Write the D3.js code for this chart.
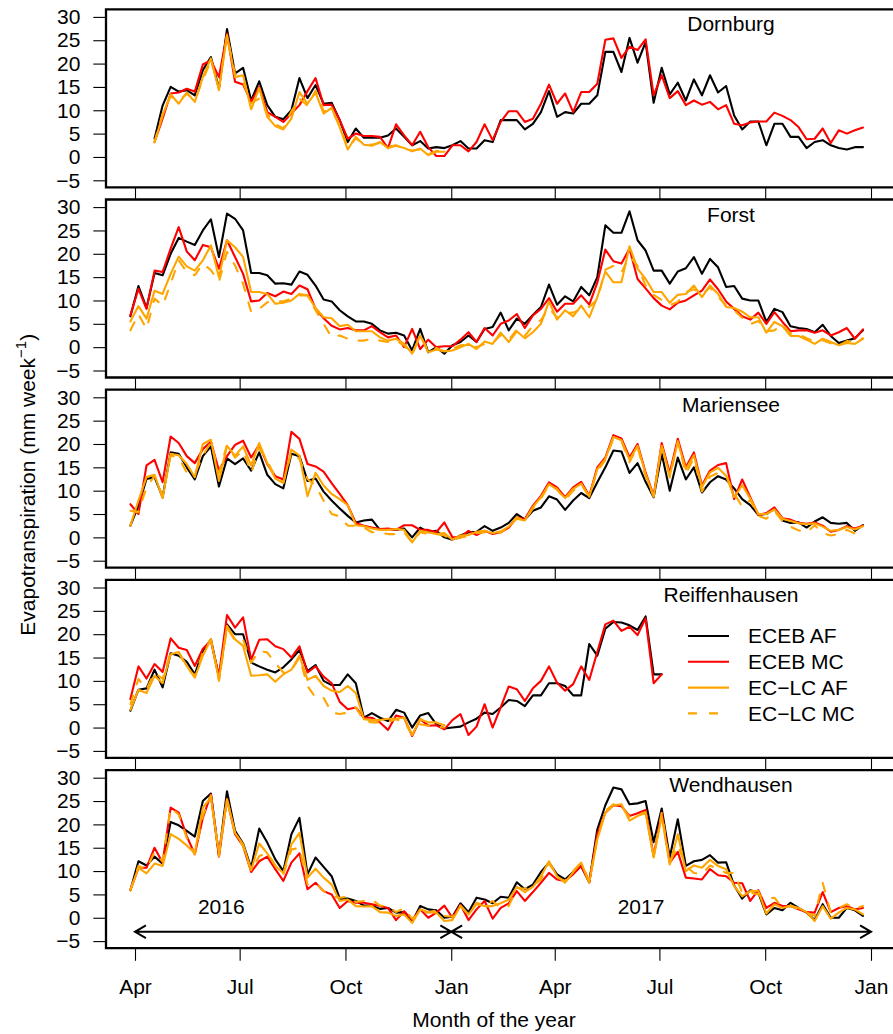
<!DOCTYPE html>
<html>
<head>
<meta charset="utf-8">
<script src="https://cdn.jsdelivr.net/npm/d3@7"></script>
<style>
  body { margin: 0; background: #fff; }
  svg { display: block; font-family: "Liberation Sans", Arial, sans-serif; }
</style>
</head>
<body>
<div id="chart"></div>
<script>
// weekly evapotranspiration (mm/week), one value per week from 28 Mar 2016, null = no data
const weekStart = new Date(2016, 2, 28);

const siteNames = ['Dornburg', 'Forst', 'Mariensee', 'Reiffenhausen', 'Wendhausen'];
const seriesNames = ['ECEB AF', 'ECEB MC', 'EC\u2212LC AF', 'EC\u2212LC MC'];
const yTicks = [-5, 0, 5, 10, 15, 20, 25, 30];

const dornburgEcebAF = [null, null, null,
  3.9, 11, 15, 14, 14.3, 13.2, 18.6, 21.4, 14.6, 27.4, 17.9, 19.1, 12.1, 16.2, 11.1, 8.6, 8.1, 10, 16.9, 12.6,
  15.4, 11.4, 11.6, 7.9, 3.2, 6.1, 4.1, 4.1, 4.1, 4.6, 6.1, 4.3, 2.5, 3.4, 1.8, 2.1, 1.9, 2.5, 3.4, 1.8, 1.8, 3.6,
  3.2, 7.9, 7.9, 7.9, 5.9, 7.1, 9.6, 14.1, 8.6, 9.6, 9.3, 11.4, 11.4, 13.2, 22.5, 22.5, 18.2, 25.5, 20.2, 24.6,
  11.6, 19.1, 13.4, 15.9, 12.1, 16.6, 13.2, 17.5, 13.8, 15.2, 8.9, 5.9, 7.6, 7.6, 2.5, 7.1, 7.1, 4.3, 4.3, 1.9,
  3.2, 3.6, 2.5, 1.9, 1.6, 2.1, 2.1];
const dornburgEcebMC = [null, null, null,
  3.2, 8.2, 13.6, 13.8, 14.6, 14, 19.8, 20.7, 17.1, 26.4, 16.1, 15.5, 11.8, 15, 9.6, 8.6, 7.5, 9.3, 11.1, 14.1,
  16.9, 11.1, 11.2, 7.9, 3.9, 5, 4.5, 4.5, 4.3, 1.9, 7, 4.6, 2.5, 5.4, 2.1, 0.2, 0.2, 2.5, 2.5, 1.2, 3.2, 7,
  3.6, 7.5, 9.8, 9.8, 7.5, 8.2, 11.4, 15.5, 11.4, 13.6, 9.6, 13.9, 13.9, 15.7, 25.1, 25.4, 21.2, 23.6, 22.9, 25.2,
  13.2, 17.5, 12.6, 14.1, 11.1, 12.1, 11.2, 11.8, 10.2, 11.1, 7.1, 6.8, 7.4, 7.6, 7.6, 9.5, 8.8, 7.9, 6.4, 3.8,
  3.9, 6.1, 3, 5.7, 5, 5.7, 6.3];
const dornburgEclcAF = [null, null, null,
  3.1, 8.9, 13.4, 11.4, 13.8, 11.8, 17.1, 21.1, 14.3, 26.1, 17.1, 17.5, 10.2, 14.8, 8.6, 6.6, 5.9, 8.2, 13.9, 11.4,
  13.8, 9.3, 10.5, 6.4, 1.6, 4.3, 2.6, 2.4, 3.2, 1.9, 2.4, 1.9, 1.2, 1.8, 0.4, 1.1, 1.1];
const dornburgEclcMC = [null, null, null,
  3.3, 9.2, 13, 12, 13.5, 12.2, 16.5, 20.6, 15, 26, 17.8, 16, 11.5, 12.5, 9.3, 7, 6.1, 9.8, 12.5, 11,
  14.2, 9.8, 10, 6.8, 2, 4, 2.8, 2.6, 3, 2.2, 2.5, 1.7, 1.4, 1.6, 0.6, 1.3, 1.2];

const forstEcebAF = [
  6.6, 13.1, 8.4, 15.9, 15.4, 20, 23.4, 22.6, 21.9, 25, 27.4, 19.3, 28.6, 27.5, 25, 15.9, 15.9, 15.4, 13.6, 13.7,
  13.4, 16.2, 15.5, 13.2, 10.2, 9.8, 7.9, 6.6, 5.5, 5.5, 5, 3.6, 2.9, 3.1, 2.5, -0.7, 3.9, -1.1, 0, -1.4, 0.4, 1.1,
  2.5, 1.1, 3.9,
  4.3, 7.4, 3.6, 6.1, 5, 6.9, 8.6, 13.4, 9.1, 10.9, 9.8, 12.9, 11.1, 15, 26.1, 24.5, 24.5, 29.1, 22.9, 20.7,
  16.4, 16.4, 13.6, 16.2, 16.9, 19.3, 15.7, 18.9, 17.1, 12.9, 13.1, 10.4, 10, 10, 5.4, 8.2, 7.5, 4.5, 4.1, 3.9,
  3.2, 4.8, 2.4, 0.9, 1.4, 1.9, 3.6];
const forstEcebMC = [
  6.8, 12.5, 8.2, 16.4, 16.1, 21.1, 25.7, 20.5, 18.6, 21.9, 21.4, 16.8, 22.9, 19.3, 15.7, 9.8, 10, 11.6, 10.9, 11.9,
  11.4, 13.2, 12.4, 8.2, 6.2, 4.6, 3.8, 4.1, 3.6, 3.6, 4.5, 3.2, 2.1, 2.5, 0, 3.9, -0.4, 1.6, 0, 0.2, 0.2, 1.6,
  3.2, 1.1, 4.1,
  2.5, 5, 5.7, 7.1, 4.1, 6.8, 8.2, 10.5, 7.6, 9.3, 9.3, 11.1, 9.1, 13.8, 20.9, 18.4, 17.9, 21.1, 14.6, 12.6,
  10.5, 8.9, 8.1, 9.5, 10, 11.1, 12.1, 14.5, 12.4, 9.8, 8.2, 6.6, 5.9, 7.4, 5, 7.5, 5.4, 3.4, 3.6, 3.6,
  3.1, 3.6, 2.5, 3.2, 4.1, 1.8, 3.8];
const forstEclcAF = [
  5.5, 8.8, 6.1, 12.1, 11.4, 15.7, 19.4, 17.3, 16.4, 18.6, 21.8, 15, 22.9, 21.4, 19.3, 11.8, 11.8, 11.4, 9.3, 9.5,
  10, 11.4, 11.1, 8.4, 6.4, 6.2, 4.5, 4.8, 3.4, 3.4, 3.4, 2.1, 1.4, 1.8, 0.7, -1.4, 2.5, -1.1, -0.5, -0.9, -0.7, 0,
  0.7, -0.4, 1.2,
  0.7, 3.1, 1.1, 3.4, 1.9, 3.2, 5, 9.8, 5.9, 7.9, 6.6, 8.9, 6.4, 10.7, 16.2, 13.9, 13.9, 21.6, 16.8, 14.6,
  11.8, 11.8, 9.5, 11.2, 11.4, 13.2, 10.7, 13.2, 11.4, 8.6, 8.4, 7.6, 6.4, 6.4, 3.1, 5.4, 4.5, 2.4, 2.4, 1.6,
  0.7, 1.8, 1.1, 0.4, 0.9, 0.7, 1.8];
const forstEclcMC = [
  3.6, 7.1, 3.9, 10.4, 8.9, 13.6, 18.6, 16.1, 15.4, 17.9, 16.5, 14, 20.4, 17.5, 13.6, 7.5, 8.2, 9.6, 9.8, 9.8,
  10.4, 11.1, 11.1, 7.9, 5, 2.1, 2.5, 1.8, 1.4, 1.4, 1.8, 1.4, 1.1, 1.4, 0.4, -1.6, 2.5, -0.7, -0.2, -0.9, -0.4, 0.4,
  0.5, 0, 0.7,
  0.9, 2.6, 1.5, 3.8, 2.4, 4.6, 5.8, 8.4, 6.3, 7.3, 7.4, 8.2, 8.6, 10.2, 16.6, 17.4, 16, 19.5, 17.4, 13.2,
  11.2, 10.1, 9, 9.7, 11.8, 12.4, 11.3, 12.8, 10.8, 8.9, 7.9, 6.3, 4.9, 5.6, 3.4, 3.6, 4.9, 2.9, 2.8, 1.9,
  1.2, 1.5, 0.8, 0.3, 1.3, 1.2, 1.9];

const marienseeEcebAF = [
  2.5, 6.8, 12.5, 12.9, 8.6, 18.2, 17.9, 15, 12.4, 17.4, 19.5, 10.9, 16.9, 15.7, 16.9, 14.3, 18.2, 13.4, 11.4, 10.5,
  17.9, 17.4, 12.1, 12.6, 9.8, 7.9, 6.2, 4.6, 3.2, 3.6, 3.8, 1.6, 1.8, 1.6, 1.9, 0, 2.1, 1.1, 1.4, 0, -0.5, 0.4,
  1.1, 1.2, 2.4,
  1.4, 2.1, 3.1, 5, 3.8, 5.7, 6.4, 8.8, 8.1, 5.9, 7.9, 9.5, 8.4, 11.8, 15, 18.6, 18.4, 13.8, 15.9, 11.9,
  8.6, 17.9, 10, 17.1, 12.4, 15, 9.6, 11.8, 13.1, 12.4, 10.5, 8.2, 6.9, 4.8, 5, 6.1, 3.6, 3.1, 3.2, 2.1,
  3.4, 4.3, 3.1, 2.9, 3.1, 1.4, 2.6];
const marienseeEcebMC = [
  7.1, 5, 15.4, 16.6, 11.8, 21.6, 20.2, 17.4, 15.9, 18.9, 20.5, 14.3, 17.4, 19.8, 20.7, 17.1, 19.8, 15.7, 13.1, 12.4,
  22.6, 21.1, 15.7, 15.2, 14.1, 11.6, 9.3, 6.9, 3.1, 2.5, 2.1, 1.8, 1.9, 1.6, 2.6, 2.6, 1.6, 1.6, 1.1, 3.2, 0, 0,
  1.4, 0.5, 1.4,
  0.7, 1.1, 2.1, 4.3, 3.9, 6.8, 8.9, 11.8, 10.7, 8.6, 10.7, 11.9, 8.9, 15, 17.1, 21.9, 21.2, 17.1, 20, 13.9,
  8.9, 20.2, 13.8, 21.1, 15, 18.2, 11.1, 14.3, 15.5, 15.9, 8.2, 12.4, 8.6, 4.8, 5.2, 6.4, 4.1, 3.8, 3.1, 2.9,
  3.2, 2.5, 1.2, 1.6, 2.4, 1.9, 2.5];
const marienseeEclcAF = [
  2.5, 7.9, 12.9, 13.4, 8.4, 17.9, 17.6, 15.7, 12.9, 20, 20.9, 12.1, 19.6, 17.5, 19.5, 15.4, 20.2, 15.9, 12.6, 11.6,
  18.8, 17.5, 8.8, 13.8, 11.1, 9.3, 8.2, 6.9, 2.6, 2.4, 1.9, 1.6, 1.6, 1.8, 1.6, -1.1, 1.4, 1.1, 0.7, 0.9, -0.5, 0.4,
  0.5, 1.2, 1.4,
  0.9, 1.3, 2.3, 4, 3.6, 6.5, 8.6, 11.4, 10.2, 8.4, 10.4, 11.5, 8.7, 14.6, 16.8, 21.5, 20.8, 16.6, 19.6, 13.6,
  8.7, 19.6, 13.2, 20.4, 14.6, 17.6, 10.8, 13.9, 14.9, 13.2, 8.6, 11.2, 8.3, 5, 5, 6, 4, 3.5, 3, 2.8,
  3, 2.3, 1.4, 1.6, 2.2, 1.7, 2.4];
const marienseeEclcMC = [
  5.7, 5.4, 10.7, 13.2, 8.9, 17.5, 17.1, 13.9, 13.6, 17.5, 20.4, 13.8, 19.8, 17.1, 18.6, 13.8, 19.1, 16.4, 12.9, 11.8,
  18.2, 16.8, 12.5, 11.1, 7.9, 5, 4.5, 2.5, 2.5, 2.1, 1.1, 1.1, 0.7, 0.7, 1.1, -1.1, 1.1, 0.7, 0.7, 0.4, -0.7, 0,
  0.2, 0.9, 1.1,
  1.2, 1, 2.4, 4.3, 3.5, 6.2, 8.3, 11.2, 10.4, 8, 10, 11.3, 8.8, 14.2, 16.6, 21.2, 20.6, 16.1, 19.4, 13,
  8.8, 19.8, 12.8, 20.6, 13.6, 17, 9.8, 13, 13.8, 13.2, 9.5, 6.5, 8, 4.6, 4, 5.6, 3.5, 2.3, 1.5, 1,
  2.6, 0.9, 0.4, 0.7, 1.6, 0.8, 0.5];

const reiffenhausenEcebAF = [
  3.6, 8.1, 8.4, 12.4, 8.6, 15.9, 15.4, 14.1, 11.4, 16.4, 18.9, 10.7, 22.1, 20, 20, 13.9, 13.1, 12.4, 11.8, 12.9,
  14.6, 16.6, 12.1, 13.4, 10, 9.1, 9.1, 11.4, 9.5, 2.1, 3.1, 2.1, 1.4, 3.8, 3.2, 0, 2.6, 3.1, 0.7, -0.2, 0, 0.2,
  1.1, 1.9, 3.2,
  2.9, 4.3, 5.9, 5.7, 4.6, 6.9, 6.9, 9.5, 9.5, 8.9, 6.9, 6.9, 17.9, 15.4, 21.2, 22.6, 22.5, 21.9, 20.9, 23.8,
  11.4, 11.4];
const reiffenhausenEcebMC = [
  6.1, 13.1, 10.5, 13.6, 11.9, 19.1, 17.1, 16.6, 13.2, 16.9, 18.6, 11.1, 24.1, 21.4, 23.6, 14.5, 18.8, 18.9, 17.4, 16.8,
  15, 17.4, 11.8, 13.1, 10.9, 9.5, 5.5, 3.9, 4.3, 2.1, 2.1, 1.1, -0.5, 2.6, 2.1, -1.8, 1.8, 0.4, 0.5, -0.4, 1.6, 2.9,
  -1.6, 0.2, 5,
  0, 4.3, 8.8, 8.2, 5.7, 8.4, 10, 13.1, 9.6, 7.9, 9.3, 13.1, 10.2, 16.2, 22.1, 22.9, 20.7, 21.6, 19.8, 23.4,
  9.5, 11.4];
const reiffenhausenEclcAF = [
  3.8, 8.1, 7.4, 11.1, 9.5, 15.7, 16.2, 13.2, 10.7, 15.4, 18.9, 10.2, 21.8, 18.9, 17.5, 11.1, 11.2, 11.4, 9.8, 11.4,
  12.4, 15.4, 10.2, 11.1, 8.9, 7.9, 7.6, 8.9, 7.4, 1.8, 1.6, 1.6, 1.9, 1.9, 2.1, -1.6, 1.8, 1.1, 1.1, 0.5];
const reiffenhausenEclcMC = [
  5, 10.4, 8.2, 11.8, 10.4, 16.1, 16.1, 12.9, 11.1, 16.1, 18.9, 10, 21.4, 18.6, 18.9, 13.9, 16.4, 16.1, 13.8, 11.8,
  12.3, 15, 8.9, 6.4, 6.4, 3.2, 2.9, 3.2, 4.3, 1.6, 1.1, 1.1, 1.2, 1.8, 1.1, -1.4, 0.7, 0.4, 0.2, 0];

const wendhausenEcebAF = [
  5.9, 12.1, 11.2, 13.1, 11.6, 20.5, 19.8, 18.6, 17.4, 25, 26.6, 13.4, 27.1, 18.6, 15.9, 10.7, 19.1, 16.1, 12.5, 10,
  17.9, 21.4, 9.3, 12.9, 10.9, 8.9, 4.1, 4.1, 3.6, 2.6, 2.6, 1.9, 2.1, 1.1, 1.2, -0.9, 2.5, 1.8, 1.6, 0, 0.2, 3.1,
  1.2, 4.3, 3.9,
  3.1, 4.5, 4.3, 7.6, 6.1, 7.1, 9.8, 11.8, 9.3, 8.2, 9.8, 11.1, 7.6, 18.9, 24.1, 27.9, 27.5, 24.3, 24.5, 25,
  16.2, 23.4, 12.9, 21.1, 11.1, 12.1, 12.4, 13.4, 11.8, 11.9, 6.9, 4.1, 5.9, 5.4, 0.7, 2.1, 1.6, 3.2, 2.1, 1.1,
  -0.5, 2.9, 0, 0, 2.1, 1.6, 0.4];
const wendhausenEcebMC = [
  5.9, 10.7, 10.7, 15, 11.8, 23.6, 22.5, 17.5, 13.6, 21.4, 26.4, 13.1, 25.5, 17.9, 15.4, 9.8, 12.1, 13.1, 10.4, 7.9,
  11.8, 13.8, 6.1, 7.5, 5.7, 5, 2.1, 3.6, 3.2, 3.2, 2.9, 2.5, 2.1, -0.5, 1.4, -0.4, 1.8, 0, 1.1, 2.6, 0, 2.8,
  -0.5, 1.8, 3.6,
  -0.2, 2.1, 3.1, 5.7, 3.6, 5.5, 7.5, 9.6, 8.2, 7.9, 9.3, 11.1, 7.6, 17.9, 22.5, 24.1, 23.9, 21.8, 22.4, 23.1,
  13.2, 22.5, 11.8, 14.1, 8.6, 8.4, 8.2, 10.4, 9.1, 8.9, 7.5, 7.4, 3.6, 5.9, 2.1, 3.2, 2.5, 2.5, 1.8, 1.2,
  1.1, 5.5, 1.2, 2.1, 2.5, 1.8, 2.1];
const wendhausenEclcAF = [
  5.9, 10.7, 9.5, 11.6, 11.1, 17.9, 16.9, 15.5, 13.8, 23.6, 25.7, 13.8, 25.4, 18.2, 15.7, 10.2, 15.9, 13.8, 11.1, 9.6,
  15.7, 18.2, 8.6, 10.5, 8.6, 7.1, 3.6, 3.9, 2.5, 2.4, 2.5, 1.2, 1.1, 0.4, 0.7, -1.1, 1.8, 1.2, 1.1, -0.7, -0.5, 2.5,
  0.7, 2.9, 2.5,
  2.5, 3.1, 3.9, 6.6, 5.5, 6.6, 8.9, 12.1, 8.9, 7.5, 9.8, 11.8, 7.5, 16.8, 22.5, 24.1, 24.3, 20.8, 21.8, 22.5,
  12.9, 21.8, 11.4, 17.9, 10, 11.2, 10.7, 12.4, 11.1, 10.4, 6.8, 4.6, 5.7, 5.7, 0.9, 2.9, 2.1, 2.6, 2.1, 1.2,
  -0.7, 2.5, -0.2, 1.1, 2.1, 1.8, 0.7];
const wendhausenEclcMC = [
  5.9, 11.1, 10.4, 14.1, 12.1, 23.6, 22.1, 17.1, 13.6, 21.8, 26.2, 13.2, 25.4, 17.9, 15.4, 10, 13.2, 13.9, 11.2, 9.3,
  14.6, 15, 7.1, 7.5, 5.7, 4.6, 4.3, 4.5, 3.4, 3.6, 3.9, 2.6, 2.5, 1.2, 2.1, -0.2, 1.2, 1.1, 1.6, 0.4, 0.2, 2.6,
  0.7, 3.2, 2.6,
  3.6, 2.1, 2.5, 6.4, 6.2, 6.8, 8.2, 11.8, 8.6, 7.9, 10, 11.8, 7.9, 16.9, 22.9, 24.3, 23.9, 21.6, 22.1, 22.6,
  13.2, 22.5, 11.8, 15.5, 11.1, 9.6, 9.3, 11.2, 10.4, 9.6, 9.6, 5.4, 5.4, 5, 4.1, 4.3, 2.1, 2.5, 1.8, 1.1,
  0.4, 7.5, 1.1, 2.1, 2.9, 1.9, 2.5];

// year periods marked with arrows in the last panel
const yearSpans = [
  { label: '2016', from: new Date(2016, 3, 1), to: new Date(2017, 0, 1), mid: new Date(2016, 5, 15) },
  { label: '2017', from: new Date(2017, 0, 1), to: new Date(2018, 0, 1), mid: new Date(2017, 5, 15) }
];
const arrowValue = -3;
const yearLabelValue = 2.4;

const panels = [
  [dornburgEcebAF, dornburgEcebMC, dornburgEclcAF, dornburgEclcMC],
  [forstEcebAF, forstEcebMC, forstEclcAF, forstEclcMC],
  [marienseeEcebAF, marienseeEcebMC, marienseeEclcAF, marienseeEclcMC],
  [reiffenhausenEcebAF, reiffenhausenEcebMC, reiffenhausenEclcAF, reiffenhausenEclcMC],
  [wendhausenEcebAF, wendhausenEcebMC, wendhausenEclcAF, wendhausenEclcMC]
];

const colors = ['#000000', '#ff0000', '#ffa500', '#ffa500'];
const dashes = [null, null, null, '9,12'];

const width = 893;
const height = 1034;
const frameLeft = 106;
const panelTop = 9.3;
const panelStep = 190.2;
const panelHeight = 178;
const fontSize = 21;

const svg = d3.select('#chart').append('svg')
  .attr('width', width)
  .attr('height', height);

const x = d3.scaleTime()
  .domain([new Date(2016, 3, 1), new Date(2018, 0, 1)])
  .range([135, 871]);

const weekDate = i => d3.timeDay.offset(weekStart, 7 * i);

panels.forEach((seriesList, p) => {
  const top = panelTop + p * panelStep;
  const bottom = top + panelHeight;
  const y = d3.scaleLinear().domain([-5, 30]).range([top + 171, top + 7.6]);
  const g = svg.append('g');

  // y axis
  const yAxis = g.append('g')
    .attr('transform', `translate(${frameLeft},0)`)
    .call(d3.axisLeft(y).tickValues(yTicks).tickSize(12.7).tickPadding(13));
  yAxis.select('.domain').remove();
  yAxis.selectAll('line').attr('stroke-width', 1.1);
  yAxis.selectAll('text')
    .attr('font-size', fontSize)
    .attr('font-family', '"Liberation Sans", Arial, sans-serif')
    .attr('fill', '#000');

  // x axis (labels only on the last panel)
  const xAxis = g.append('g')
    .attr('transform', `translate(0,${bottom})`)
    .call(d3.axisBottom(x).ticks(d3.timeMonth.every(3)).tickFormat(d3.timeFormat('%b'))
      .tickSize(12.7).tickPadding(18.5));
  xAxis.select('.domain').remove();
  xAxis.selectAll('line').attr('stroke-width', 1.1);
  if (p === panels.length - 1) {
    xAxis.selectAll('text')
      .attr('font-size', fontSize)
      .attr('font-family', '"Liberation Sans", Arial, sans-serif')
      .attr('fill', '#000');
  } else {
    xAxis.selectAll('text').remove();
  }

  // series lines
  seriesList.forEach((values, s) => {
    const pts = values.map((v, i) => ({ date: weekDate(i), v }));
    const line = d3.line()
      .defined(d => d.v != null)
      .x(d => x(d.date))
      .y(d => y(d.v));
    g.append('path')
      .datum(pts)
      .attr('d', line)
      .attr('fill', 'none')
      .attr('stroke', colors[s])
      .attr('stroke-width', 2.1)
      .attr('stroke-linejoin', 'round')
      .attr('stroke-linecap', 'round')
      .attr('stroke-dasharray', dashes[s]);
  });

  // frame (right edge runs off the picture)
  g.append('path')
    .attr('d', `M${width},${top}H${frameLeft}V${bottom}H${width}`)
    .attr('fill', 'none')
    .attr('stroke', '#000')
    .attr('stroke-width', 2.3);

  g.append('text')
    .attr('x', 731)
    .attr('y', top + 22)
    .attr('text-anchor', 'middle')
    .attr('font-size', fontSize)
    .text(siteNames[p]);

  // legend in the Reiffenhausen panel
  if (p === 3) {
    const leg = g.append('g');
    seriesNames.forEach((name, s) => {
      const ly = 636 + s * 25.8;
      leg.append('line')
        .attr('x1', 688).attr('x2', 729)
        .attr('y1', ly).attr('y2', ly)
        .attr('stroke', colors[s])
        .attr('stroke-width', 2.1)
        .attr('stroke-dasharray', dashes[s]);
      leg.append('text')
        .attr('x', 748)
        .attr('y', ly)
        .attr('dy', '0.35em')
        .attr('font-size', fontSize)
        .text(name);
    });
  }

  // year arrows in the last panel
  if (p === panels.length - 1) {
    const headLen = 12.6;
    const headAng = Math.PI / 6;
    yearSpans.forEach(span => {
      const x1 = x(span.from);
      const x2 = x(span.to);
      const ya = y(arrowValue);
      const dx = headLen * Math.cos(headAng);
      const dy = headLen * Math.sin(headAng);
      g.append('path')
        .attr('d', `M${x1},${ya}H${x2}` +
          `M${x1 + dx},${ya - dy}L${x1},${ya}L${x1 + dx},${ya + dy}` +
          `M${x2 - dx},${ya - dy}L${x2},${ya}L${x2 - dx},${ya + dy}`)
        .attr('fill', 'none')
        .attr('stroke', '#000')
        .attr('stroke-width', 2);
      g.append('text')
        .attr('x', x(span.mid))
        .attr('y', y(yearLabelValue))
        .attr('dy', '0.35em')
        .attr('text-anchor', 'middle')
        .attr('font-size', fontSize)
        .text(span.label);
    });
  }
});

// axis titles
svg.append('text')
  .attr('x', 494)
  .attr('y', 1027)
  .attr('text-anchor', 'middle')
  .attr('font-size', fontSize)
  .text('Month of the year');

const yTitle = svg.append('text')
  .attr('transform', `translate(28,${panelTop + (panels.length * panelStep) / 2}) rotate(-90)`)
  .attr('text-anchor', 'middle')
  .attr('dy', '0.35em')
  .attr('font-size', fontSize);
yTitle.append('tspan').text('Evapotranspiration (mm week');
yTitle.append('tspan').attr('font-size', 15).attr('dy', '-0.6em').text('\u22121');
yTitle.append('tspan').attr('dy', '0.4em').text(')');
</script>
</body>
</html>
